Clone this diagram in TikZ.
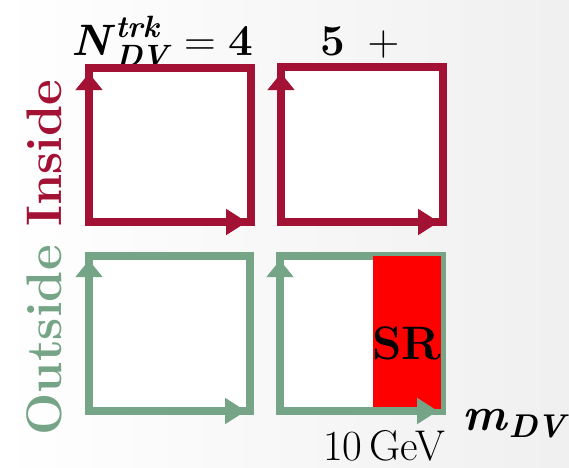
\RequirePackage{fix-cm}
\documentclass[tikz,border=0pt]{standalone}
\usepackage{amsmath}
\usepackage{xcolor}
\usepackage{tikz}
\usetikzlibrary{arrows.meta}

\definecolor{insidered}{RGB}{163,17,52}
\definecolor{outsidegreen}{RGB}{118,164,134}

\newcommand{\bi}[1]{\textbf{\textit{#1}}}

\tikzset{
	regionbox/.style={line width=8pt, fill=white},
	upaxis/.style={line width=8pt, -{Triangle[length=17pt,width=26pt]}},
	rightaxis/.style={line width=8pt, -{Triangle[length=21pt,width=25pt]}},
	headfont/.style={font=\fontsize{44}{48}\selectfont},
	sidefont/.style={font=\fontsize{50}{56}\selectfont\bfseries},
	srfont/.style={font=\fontsize{47}{50}\selectfont\bfseries},
	axisfont/.style={font=\fontsize{47}{50}\selectfont},
	cutfont/.style={font=\fontsize{43}{46}\selectfont}
}

\begin{document}
\begin{tikzpicture}[x=1pt,y=1pt]
		% background
		\shade[left color=white, right color=gray!12] (0,0) rectangle (569,467);
		\useasboundingbox (0,0) rectangle (569,467);
		
		% column and row labels
		\node[headfont, anchor=base] (ntrk4) at (162,411) {$\bi{N}^{\bi{trk}}_{\bi{DV}} = \textbf{4}$};
		\node[headfont, anchor=base] (ntrk5) at (360,411) {$\textbf{5}\enspace{+}$};
		\node[sidefont, rotate=90, anchor=base] (side) at (61,209.5) {\textcolor{outsidegreen}{Outside} \textcolor{insidered}{Inside}};
		
		% inside, N = 4
		\coordinate (o1) at (89,245);
		\coordinate (u1) at (89,394);
		\coordinate (r1) at (247,245);
		\draw[regionbox, draw=insidered] (o1) rectangle (251,399);
		\draw[upaxis, insidered] (o1) -- (u1);
		\draw[rightaxis, insidered] (o1) -- (r1);
		
		% inside, N = 5+
		\coordinate (o2) at (281,245);
		\coordinate (u2) at (281,394);
		\coordinate (r2) at (439,245);
		\draw[regionbox, draw=insidered] (o2) rectangle (443,400);
		\draw[upaxis, insidered] (o2) -- (u2);
		\draw[rightaxis, insidered] (o2) -- (r2);
		
		% outside, N = 4
		\coordinate (o3) at (89,56);
		\coordinate (u3) at (89,207);
		\coordinate (r3) at (246,56);
		\draw[regionbox, draw=outsidegreen] (o3) rectangle (250,211);
		\draw[upaxis, outsidegreen] (o3) -- (u3);
		\draw[rightaxis, outsidegreen] (o3) -- (r3);
		
		% outside, N = 5+ : signal region
		\coordinate (o4) at (280,56);
		\coordinate (u4) at (280,207);
		\coordinate (r4) at (438,56);
		\draw[regionbox, draw=outsidegreen] (o4) rectangle (442,211);
		\fill[red] (373,58) rectangle (441,211);
		\draw[upaxis, outsidegreen] (o4) -- (u4);
		\draw[rightaxis, outsidegreen] (o4) -- (r4);
		\node[srfont] (sr) at (407,124) {SR};
		
		% axis labels
		\node[axisfont, anchor=base] (mdv) at (516,37) {$\bi{m}_{\bi{DV}}$};
		\node[cutfont, anchor=base] (cut) at (384,7) {10\,GeV};
	\end{tikzpicture}
\end{document}
